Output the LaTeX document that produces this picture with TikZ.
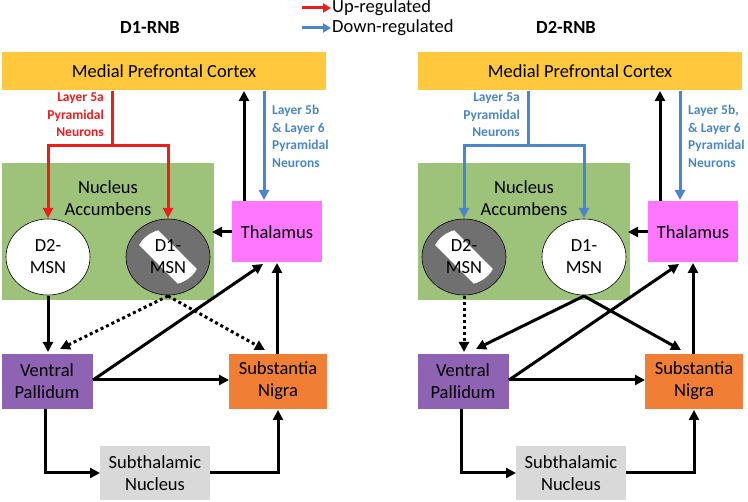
\documentclass[tikz,border=0pt]{standalone}
\usepackage{fontspec}
\setmainfont{Carlito}
\usetikzlibrary{arrows.meta,calc,shapes.geometric}
\definecolor{mpfc}{HTML}{FFC83D}
\definecolor{nac}{HTML}{9DC37A}
\definecolor{thal}{HTML}{FF77FF}
\definecolor{vp}{HTML}{8E63B4}
\definecolor{sn}{HTML}{F07F35}
\definecolor{stn}{HTML}{D9D9D9}
\definecolor{upc}{HTML}{EE1C1C}
\definecolor{dnc}{HTML}{4A86C8}
\definecolor{blk}{HTML}{707070}
\tikzset{
 box/.style={draw=none,inner sep=0pt,align=center,font=\fontsize{18.5}{22}\selectfont},
 conn/.style={line width=3pt,-{Triangle[length=10pt,width=10pt]}},
 dotc/.style={conn,dash pattern=on 3pt off 3pt},
 lab/.style={font=\bfseries\fontsize{13.5}{17.5}\selectfont,align=#1,inner sep=0pt},
 ttl/.style={font=\bfseries\fontsize{18.5}{22}\selectfont},
}
\begin{document}
\begin{tikzpicture}[x=1pt,y=-1pt]
\useasboundingbox (0,0) rectangle (748,502);
\coordinate (u1) at (302,8); \coordinate (u2) at (331,8);
\coordinate (d1) at (302,28); \coordinate (d2) at (331,28);
\draw[upc,line width=3pt,-{Triangle[length=8pt,width=9pt]}] (u1) -- (u2);
\draw[dnc,line width=3pt,-{Triangle[length=8pt,width=9pt]}] (d1) -- (d2);
\node[anchor=west,font=\fontsize{18.5}{22}\selectfont,inner sep=1pt] (lu) at (331,8) {Up-regulated};
\node[anchor=west,font=\fontsize{18.5}{22}\selectfont,inner sep=1pt] (ld) at (331,28) {Down-regulated};
\foreach \s/\P/\ca/\ttltxt/\fa/\fb/\xx/\lb in {0/L/upc/D1-RNB/white/blk/168/{Layer 5b\\\& Layer 6\\Pyramidal\\Neurons},416/R/dnc/D2-RNB/blk/white/48/{Layer 5b,\\\& Layer 6\\Pyramidal\\Neurons}}{
\begin{scope}[xshift=\s]
\node[ttl] (t\P) at (150,27) {\ttltxt};
\fill[mpfc] (2,52) rectangle (326,90);
\node[box] (m\P) at (164,71) {Medial Prefrontal Cortex};
\fill[nac] (2,163) rectangle (214,300);
\node[box] (na\P) at (108,198) {Nucleus\\Accumbens};
\fill[thal] (232,201) rectangle (322,262);
\node[box] (th\P) at (277,232) {Thalamus};
\fill[vp] (2,354) rectangle (93,409);
\node[box] (vp\P) at (47,381) {Ventral\\Pallidum};
\fill[sn] (229,354) rectangle (327,409);
\node[box] (sn\P) at (278,381) {Substantia\\Nigra};
\fill[stn] (100,446) rectangle (210,500);
\node[box] (st\P) at (155,473) {Subthalamic\\Nucleus};
\filldraw[fill=\fa,draw=black,line width=0.6pt] (48,257) ellipse (42 and 38);
\filldraw[fill=\fb,draw=black,line width=0.6pt] (168,257) ellipse (42 and 38);
\begin{scope}
\clip (\xx,257) ellipse (32 and 28);
\fill[white,rotate around={-45:(\xx,257)}] ($(\xx,257)+(-45,-12)$) rectangle ($(\xx,257)+(45,12)$);
\end{scope}
\node[font=\fontsize{18.5}{22}\selectfont,align=center] (d2\P) at (48,257) {D2-\\MSN};
\node[font=\fontsize{18.5}{22}\selectfont,align=center] (d1\P) at (168,257) {D1-\\MSN};
\coordinate (sp\P) at (112,91);
\coordinate (sh\P) at (112,146);
\draw[\ca,line width=3pt] (sp\P) -- (sh\P);
\draw[\ca,conn] (sh\P) -| (48,218);
\draw[\ca,conn] (sh\P) -| (168,218);
\node[lab=right,text=\ca,anchor=north east] (l5\P) at (104,93) {Layer 5a\\Pyramidal\\Neurons};
\draw[conn] (244,201) -- (244,91);
\draw[dnc,conn] (264,91) -- (264,200);
\node[lab=left,text=dnc,anchor=north west] (l6\P) at (272,105) {\lb};
\draw[conn] (232,232) -- (212,232);
\draw[conn] (277,354) -- (277,263);
\draw[conn] (93,380) -- (229,380);
\draw[conn] (93,380) -- (263,264);
\draw[conn] (45,409) |- (100,473);
\draw[conn] (210,473) -| (278,410);
\end{scope}}
\draw[conn] (48,296) -- (48,352);
\draw[dotc] (168,296) -- (60,349);
\draw[dotc] (168,296) -- (265,350);
\draw[dotc] (464,296) -- (464,352);
\draw[conn] (584,296) -- (476,349);
\draw[conn] (584,296) -- (681,350);
\end{tikzpicture}
\end{document}
